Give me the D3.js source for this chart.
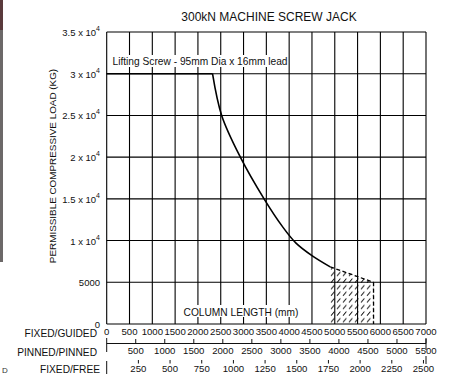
<!DOCTYPE html>
<html>
<head>
<meta charset="utf-8">
<script src="https://cdn.jsdelivr.net/npm/d3@7"></script>
<style>
  html, body { margin: 0; padding: 0; background: #fff; }
  svg { display: block; font-family: "Liberation Sans", Arial, sans-serif; }
</style>
</head>
<body>
<svg id="chart" width="451" height="376"></svg>
<script>
// Load capacity curve (column length in mm vs. permissible load in kg)
const lengthMM = [0, 2320, 2520, 2930, 3450, 3850, 4150, 4500, 4900];
const loadKG   = [30000, 30000, 25000, 20000, 15000, 11700, 9700, 8200, 6850];
// Extrapolated (hatched) part of the curve
const extLengthMM = [4900, 5850];
const extLoadKG   = [6850, 5000];

// Tick values
const xTicks = d3.range(0, 7001, 500);
const yTicks = [0, 5000, 10000, 15000, 20000, 25000, 30000, 35000];
const pinnedTicks = d3.range(500, 5501, 500);
const freeTicks = d3.range(250, 2501, 250);

const title = "300kN MACHINE SCREW JACK";
const yTitle = "PERMISSIBLE COMPRESSIVE LOAD (KG)";
const xTitle = "COLUMN LENGTH (mm)";
const note = "Lifting Screw - 95mm Dia x 16mm lead";
const rowNames = ["FIXED/GUIDED", "PINNED/PINNED", "FIXED/FREE"];

const svg = d3.select("#chart");
const L = 106.7, R = 426, T = 32, B = 324;

const x = d3.scaleLinear().domain([0, 7000]).range([L, R]);
const y = d3.scaleLinear().domain([0, 35000]).range([B, T]);
const xPinned = d3.scaleLinear().domain([0, 5500]).range([L, R]);
const xFree = d3.scaleLinear().domain([0, 2520]).range([L, R]);

// neighbouring page edge strip
svg.append("rect").attr("x", 0).attr("y", 0).attr("width", 3).attr("height", 262).attr("fill", "#6c6868");
svg.append("rect").attr("x", 0).attr("y", 0).attr("width", 3).attr("height", 30).attr("fill", "#5a3a3c");
svg.append("text").attr("x", 2).attr("y", 373).attr("font-size", 8).attr("fill", "#333").text("D");

// grid
const grid = svg.append("g").attr("stroke", "#000").attr("stroke-width", 1.1);
grid.selectAll("line.v").data(xTicks).join("line")
  .attr("x1", d => x(d)).attr("x2", d => x(d)).attr("y1", T).attr("y2", B);
grid.selectAll("line.h").data(yTicks).join("line")
  .attr("x1", L).attr("x2", R).attr("y1", d => y(d)).attr("y2", d => y(d));

// hatch pattern
const defs = svg.append("defs");
const pat = defs.append("pattern").attr("id", "hatch").attr("patternUnits", "userSpaceOnUse")
  .attr("width", 6).attr("height", 6.6);
pat.append("line").attr("x1", 1).attr("y1", 5.4).attr("x2", 4.4).attr("y2", 1.4)
  .attr("stroke", "#000").attr("stroke-width", 1);

const hatchArea = d3.area().x((d, i) => x(extLengthMM[i])).y0(y(0)).y1((d, i) => y(extLoadKG[i]));
svg.append("path").datum(extLoadKG).attr("d", hatchArea).attr("fill", "url(#hatch)");

// extrapolated dashed boundary
const extLine = d3.line().x((d, i) => x(extLengthMM[i])).y((d, i) => y(extLoadKG[i]));
svg.append("path").datum(extLoadKG).attr("d", extLine)
  .attr("fill", "none").attr("stroke", "#000").attr("stroke-width", 1.3).attr("stroke-dasharray", "4,2.5");
svg.append("line")
  .attr("x1", x(extLengthMM[1])).attr("x2", x(extLengthMM[1]))
  .attr("y1", y(extLoadKG[1])).attr("y2", y(0))
  .attr("stroke", "#000").attr("stroke-width", 1.3).attr("stroke-dasharray", "4,2.5");

// capacity curve: flat limit then buckling curve
const pts = lengthMM.map((d, i) => [d, loadKG[i]]);
const flat = pts.slice(0, 2);
const buckling = pts.slice(1);
svg.append("path").datum(flat)
  .attr("d", d3.line().x(d => x(d[0])).y(d => y(d[1])))
  .attr("fill", "none").attr("stroke", "#000").attr("stroke-width", 1.6);
svg.append("path").datum(buckling)
  .attr("d", d3.line().x(d => x(d[0])).y(d => y(d[1])).curve(d3.curveCatmullRom.alpha(0.5)))
  .attr("fill", "none").attr("stroke", "#000").attr("stroke-width", 1.6);

// note with white background
const noteG = svg.append("g");
noteG.append("rect").attr("x", 109).attr("y", 55).attr("width", 178).attr("height", 12).attr("fill", "#fff");
noteG.append("text").attr("x", 112.5).attr("y", 64.8).attr("font-size", 10.2).attr("fill", "#111")
  .attr("textLength", 175).attr("lengthAdjust", "spacingAndGlyphs").text(note);

// x title with background
const xt = svg.append("g");
xt.append("rect").attr("x", 181).attr("y", 305).attr("width", 120).attr("height", 12).attr("fill", "#fff");
xt.append("text").attr("x", 241).attr("y", 315.5).attr("text-anchor", "middle")
  .attr("font-size", 10.2).attr("fill", "#111").text(xTitle);

// title
svg.append("text").attr("x", 269).attr("y", 20.8).attr("text-anchor", "middle")
  .attr("font-size", 12).attr("fill", "#111").text(title);

// y title
svg.append("text").attr("transform", "translate(55.5,166) rotate(-90)")
  .attr("text-anchor", "middle").attr("font-size", 9.9).attr("fill", "#111").text(yTitle);

// y tick labels
const yl = svg.append("g").attr("font-size", 9.5).attr("fill", "#111").attr("text-anchor", "end");
yTicks.forEach(v => {
  const t = yl.append("text").attr("x", 100).attr("y", y(v) + 4);
  if (v < 10000) {
    t.text(String(v));
  } else {
    t.append("tspan").text(`${v / 10000} x 10`);
    t.append("tspan").attr("dy", -5).attr("font-size", 7).text("4");
  }
});

// row names
const rows = svg.append("g").attr("font-size", 10.2).attr("fill", "#111").attr("text-anchor", "end");
rows.append("text").attr("x", 97).attr("y", 336.5).text(rowNames[0]);
rows.append("text").attr("x", 97).attr("y", 356).text(rowNames[1]);
rows.append("text").attr("x", 100).attr("y", 373).text(rowNames[2]);

// fixed/guided labels
svg.append("g").attr("font-size", 9.6).attr("fill", "#111").attr("text-anchor", "middle")
  .selectAll("text").data(xTicks).join("text")
  .attr("x", d => x(d)).attr("y", 335).text(d => d);

// pinned/pinned axis
const pa = svg.append("g").attr("stroke", "#111").attr("stroke-width", 1);
pa.append("line").attr("x1", L).attr("x2", R).attr("y1", 343.5).attr("y2", 343.5);
pa.selectAll("line.t").data(pinnedTicks).join("line")
  .attr("x1", d => xPinned(d)).attr("x2", d => xPinned(d)).attr("y1", 339).attr("y2", 343.5);
pa.append("line").attr("x1", L).attr("x2", L).attr("y1", 338).attr("y2", 352);
pa.append("line").attr("x1", R).attr("x2", R).attr("y1", 338).attr("y2", 350);
svg.append("g").attr("font-size", 9.6).attr("fill", "#111").attr("text-anchor", "middle")
  .selectAll("text").data(pinnedTicks).join("text")
  .attr("x", d => xPinned(d)).attr("y", 354).text(d => d);

// fixed/free axis
const fa = svg.append("g").attr("stroke", "#111").attr("stroke-width", 1);
fa.selectAll("line.t").data(freeTicks).join("line")
  .attr("x1", d => xFree(d)).attr("x2", d => xFree(d)).attr("y1", 360).attr("y2", 363.5);
fa.append("line").attr("x1", L).attr("x2", L).attr("y1", 361).attr("y2", 374);
fa.append("line").attr("x1", R).attr("x2", R).attr("y1", 356).attr("y2", 364);
svg.append("g").attr("font-size", 9.6).attr("fill", "#111").attr("text-anchor", "middle")
  .selectAll("text").data(freeTicks).join("text")
  .attr("x", d => xFree(d)).attr("y", 371.5).text(d => d);
</script>
</body>
</html>
